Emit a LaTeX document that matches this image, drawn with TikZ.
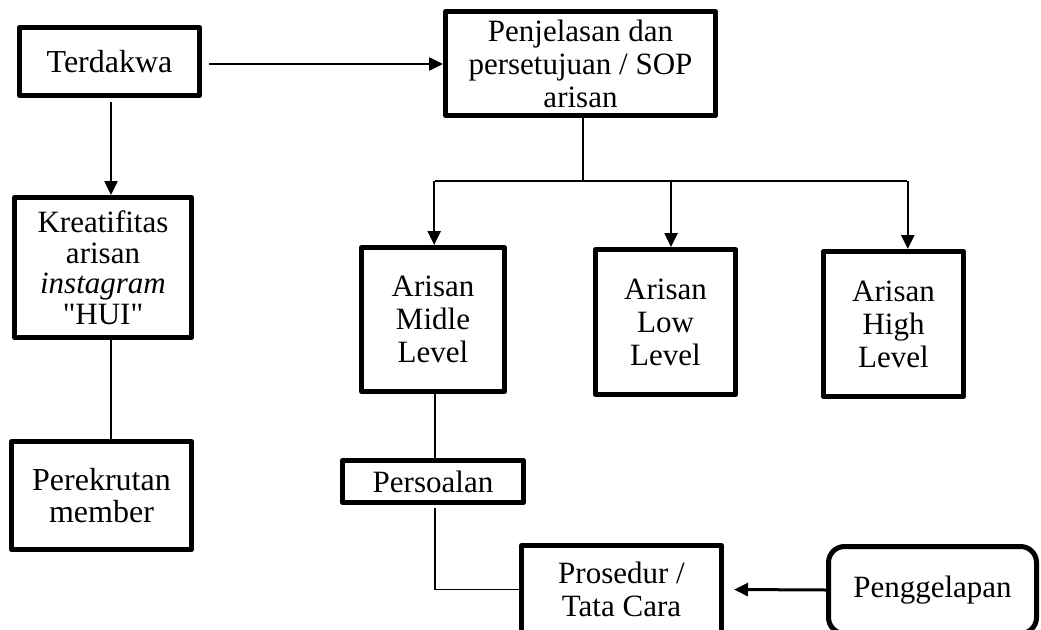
\documentclass[tikz,border=0pt]{standalone}
\usepackage{fontspec}
\setmainfont{Liberation Serif}[Ligatures=TeXOff]
\usetikzlibrary{arrows.meta}
\begin{document}
\begin{tikzpicture}[x=1pt,y=1pt,
  box/.style={draw=black, line width=5pt, line join=round, inner sep=0pt, align=center,
    font=\fontsize{31}{33}\selectfont},
  arr/.style={line width=2.5pt, -{Triangle[length=14pt,width=13pt]}},
  plain/.style={line width=1.6pt}]
\useasboundingbox (0,0) rectangle (1041,-629);
\clip (0,0) rectangle (1041,-629);
\fill[white] (0,0) rectangle (1041,-629);
% boxes
\node[box, minimum width=180pt, minimum height=68pt, font=\fontsize{32}{33}\selectfont] (T) at (109.5,-61.5) {Terdakwa};
\node[box, minimum width=270pt, minimum height=104pt] (P) at (580.5,-63.5) {Penjelasan dan\\persetujuan / SOP\\arisan};
\node[box, minimum width=177pt, minimum height=140pt, font=\fontsize{31}{30.5}\selectfont] (K) at (103,-267.5) {Kreatifitas\\arisan\\\textit{instagram}\\"HUI"};
\node[box, minimum width=180pt, minimum height=108pt, font=\fontsize{32}{31.5}\selectfont] (R) at (101.5,-495.5) {Perekrutan\\member};
\node[box, minimum width=143pt, minimum height=144pt] (M) at (433,-319.5) {Arisan\\Midle\\Level};
\node[box, minimum width=140pt, minimum height=145pt] (L) at (665.5,-322) {Arisan\\Low\\Level};
\node[box, minimum width=140pt, minimum height=145pt] (H) at (893.5,-324) {Arisan\\High\\Level};
\node[box, minimum width=181pt, minimum height=42pt] (S) at (433,-481.5) {Persoalan};
\node[box, minimum width=200pt, minimum height=88pt] (C) at (621.5,-589.5) {Prosedur /\\Tata Cara};
\node[box, rounded corners=16pt, minimum width=208pt, minimum height=87pt] (G) at (932.5,-590) {Penggelapan};
% connectors
\draw[arr] ([xshift=7pt,yshift=-2.5pt]T.east) -- ([yshift=-2.5pt]T.east -| P.west);
\draw[arr] ([xshift=1.5pt,yshift=-4pt]T.south) -- ([xshift=1.5pt]T.south |- K.north);
\draw[plain] ([xshift=8pt]K.south) -- ([xshift=8pt]K.south |- R.north);
\coordinate (br) at (583,-181);
\coordinate (bm) at (435,-181);
\coordinate (bl) at (671,-181);
\coordinate (bh) at (907,-181);
\draw[plain] (br |- P.south) -- (br);
\draw[plain] (bm) -- (bh);
\draw[arr] ([xshift=-0.8pt]bm) -- ([xshift=-0.8pt]bm |- M.north);
\draw[arr] (bl) -- (bl |- L.north);
\draw[arr] ([xshift=0.8pt]bh) -- ([xshift=0.8pt]bh |- H.north);
\draw[plain] ([xshift=2pt]M.south) -- ([xshift=2pt]M.south |- S.north);
\draw[plain] ([xshift=2pt,yshift=-3pt]S.south) |- (C.west);
\draw[arr, line width=3pt] (G.west) -- ([xshift=10pt]C.east);
\end{tikzpicture}
\end{document}
